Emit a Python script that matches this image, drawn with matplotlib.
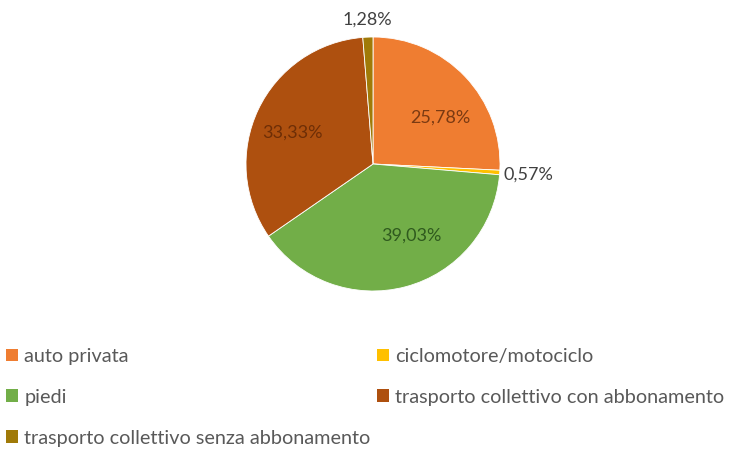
import matplotlib
matplotlib.use("Agg")
import matplotlib.pyplot as plt
from matplotlib.patches import Patch
import numpy as np

plt.rcParams['font.family'] = ['Lato', 'DejaVu Sans']

categories = ["auto privata", "ciclomotore/motociclo", "piedi",
              "trasporto collettivo con abbonamento",
              "trasporto collettivo senza abbonamento"]
values = [25.78, 0.57, 39.03, 33.33, 1.28]
labels = ["25,78%", "0,57%", "39,03%", "33,33%", "1,28%"]
colors = ["#EF7D31", "#FFC000", "#72AE48", "#AE500F", "#A07A08"]

# label style: radius fraction, angle offset (deg) and colour
label_r = [0.64, 1.23, 0.64, 0.685, 1.14]
label_da = [-9, 0, 13, 4, 0]
label_c = ["#7A3A12", "#404040", "#2F5A1E", "#6E2E06", "#404040"]

W, H = 732, 449
fig = plt.figure(figsize=(W / 100, H / 100), dpi=100)
cx, cy, R = 373, 164, 127
lim = 1.4
side = 2 * lim * R
ax = fig.add_axes([(cx - side / 2) / W, (H - cy - side / 2) / H, side / W, side / H])
wedges, _ = ax.pie(values, colors=colors, startangle=90, counterclock=False,
                   radius=1.0, wedgeprops=dict(edgecolor="white", linewidth=0.6))
ax.set_xlim(-lim, lim)
ax.set_ylim(-lim, lim)
ax.set_aspect('auto')
ax.axis('off')

for w, lab, r, da, c in zip(wedges, labels, label_r, label_da, label_c):
    mid = np.deg2rad((w.theta1 + w.theta2) / 2 + da)
    ax.text(r * np.cos(mid), r * np.sin(mid), lab, ha='center', va='center',
            fontsize=13, color=c)

legend_kw = dict(loc='upper left', frameon=False, fontsize=14.3,
                 handlelength=0.62, handleheight=0.62, handletextpad=0.3,
                 labelspacing=1.2, borderaxespad=0, borderpad=0)

col1 = [0, 2, 4]
col2 = [1, 3]
leg1 = fig.legend([Patch(facecolor=colors[i], edgecolor='none') for i in col1],
                  [categories[i] for i in col1],
                  bbox_to_anchor=(6 / W, (H - 348) / H), **legend_kw)
leg2 = fig.legend([Patch(facecolor=colors[i], edgecolor='none') for i in col2],
                  [categories[i] for i in col2],
                  bbox_to_anchor=(377 / W, (H - 348) / H), **legend_kw)
for leg in (leg1, leg2):
    for t in leg.get_texts():
        t.set_color('#595959')

fig.savefig("out.png", dpi=100)
